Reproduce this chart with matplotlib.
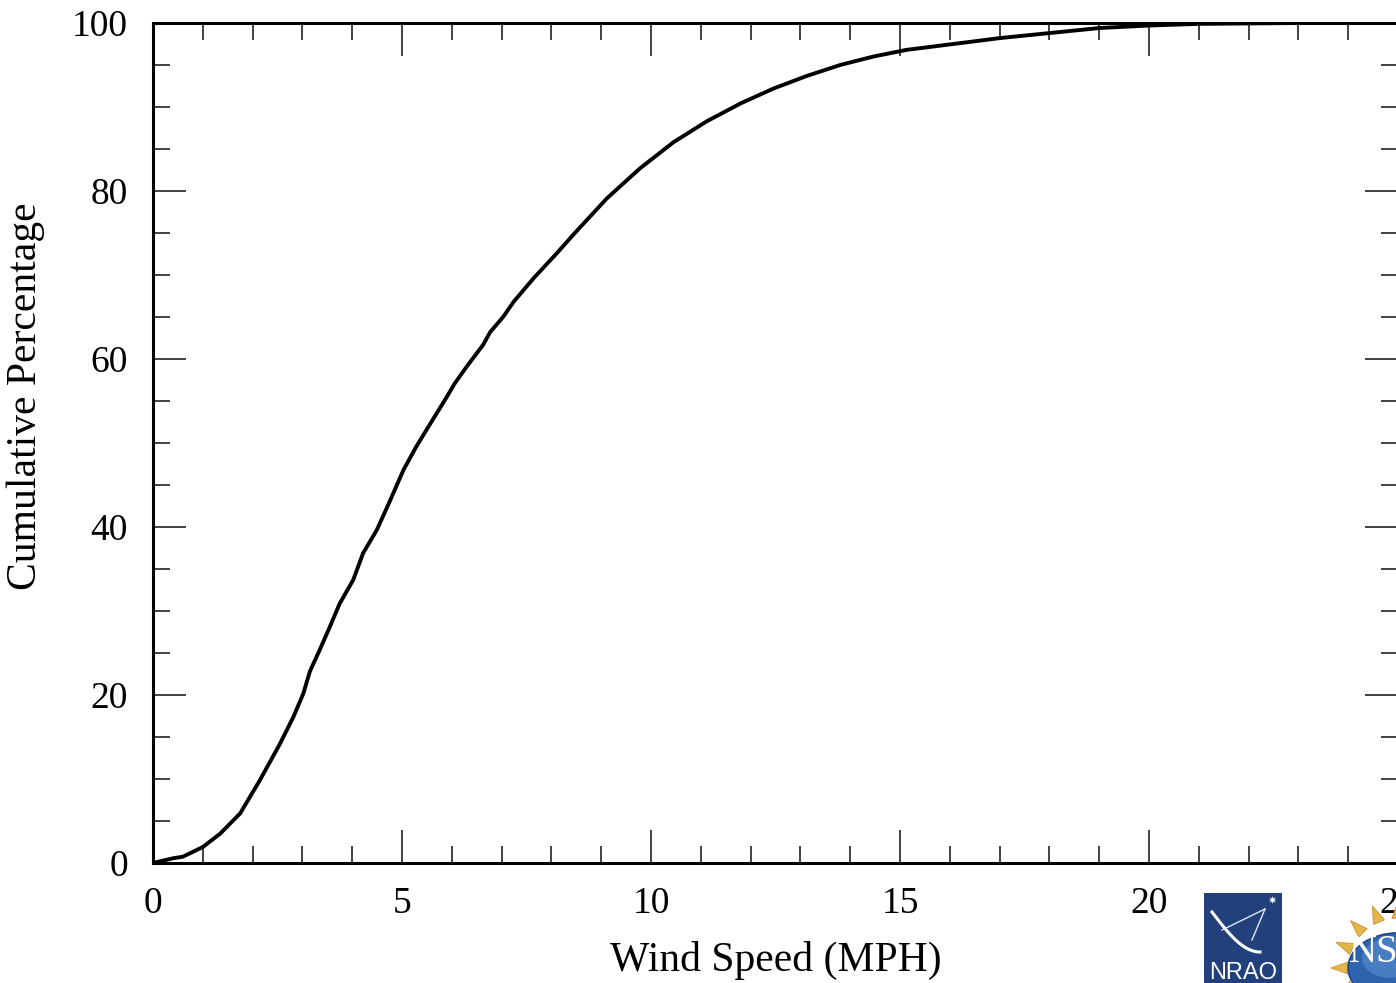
import numpy as np
import matplotlib
matplotlib.use("Agg")
import matplotlib.pyplot as plt
from matplotlib.ticker import MultipleLocator
from matplotlib.patches import Rectangle, Circle, Polygon
from matplotlib.lines import Line2D

# ---- data ----
wind_speed = [0, 0.4, 0.6, 1.0, 1.35, 1.75, 2.15, 2.55, 2.82, 3.02, 3.15, 3.35, 3.55,
              3.75, 4.02, 4.22, 4.49, 4.72, 5.03, 5.29, 5.63, 5.86, 6.06, 6.30, 6.63,
              6.77, 7.03, 7.24, 7.64, 8.11, 8.44, 9.11, 9.78, 10.45, 11.12, 11.79,
              12.46, 13.13, 13.80, 14.46, 15.13, 15.80, 16.47, 17.0, 18.0, 19.0, 20.0,
              21.0, 22.0, 23.0, 25.0]
cumulative_pct = [0, 0.56, 0.75, 1.9, 3.5, 5.9, 9.9, 14.2, 17.4, 20.2, 22.8, 25.4, 28.1,
                  30.9, 33.7, 36.9, 39.6, 42.6, 46.8, 49.6, 52.9, 55.1, 57.1, 59.1, 61.7,
                  63.2, 65.0, 66.8, 69.6, 72.6, 74.8, 79.1, 82.7, 85.8, 88.3, 90.4,
                  92.2, 93.7, 95.0, 96.0, 96.8, 97.3, 97.8, 98.2, 98.8, 99.4, 99.7,
                  99.9, 99.95, 100, 100]
x_ticks = [0, 5, 10, 15, 20, 25]
y_ticks = [0, 20, 40, 60, 80, 100]

W, H = 1396, 983
plt.rcParams['font.family'] = ['Liberation Serif', 'DejaVu Serif']
fig = plt.figure(figsize=(W / 100, H / 100), dpi=100)

def fx(x):
    return x / W

def fy(y):
    return 1 - y / H

ax = fig.add_axes([fx(153), fy(863), fx(1398) - fx(153), fy(23) - fy(863)])
ax.plot(wind_speed, cumulative_pct, color='black', lw=2.8, solid_joinstyle='round',
        solid_capstyle='round', zorder=3)
ax.set_xlim(0, 25)
ax.set_ylim(0, 100)
ax.set_xticks(x_ticks)
ax.set_yticks(y_ticks)
ax.xaxis.set_minor_locator(MultipleLocator(1))
ax.yaxis.set_minor_locator(MultipleLocator(5))
ax.tick_params(which='both', direction='in', top=True, right=True, color='#333333',
               width=1.3, labelsize=27)
ax.tick_params(which='major', length=24)
ax.tick_params(which='minor', length=12)
ax.tick_params(axis='x', which='major', pad=17)
ax.tick_params(axis='y', which='major', pad=18)
for s in ax.spines.values():
    s.set_linewidth(2.2)
ax.set_xlabel('Wind Speed (MPH)', fontsize=30, labelpad=14)
ax.set_ylabel('Cumulative Percentage', fontsize=30)
ax.yaxis.set_label_coords(-0.087, 0.556)

# ---- logos (decoration, approximate) ----
tf = fig.transFigure
# NRAO
fig.add_artist(Rectangle((fx(1204), fy(990)), fx(1282) - fx(1204), fy(893) - fy(990),
                         facecolor='#22417c', edgecolor='none', transform=tf))
t = np.linspace(0, 1, 40)
fig.add_artist(Line2D(fx(1212 + 48 * t), fy(912 + 40 * np.sin(t * np.pi / 2)),
                      color='white', lw=2.2, transform=tf))
fig.add_artist(Line2D([fx(1222), fx(1265)], [fy(930), fy(909)], color='#dfe6f2', lw=1,
                      transform=tf))
fig.add_artist(Line2D([fx(1252), fx(1265)], [fy(940), fy(909)], color='#dfe6f2', lw=1,
                      transform=tf))
fig.text(fx(1272), fy(901), '✷', color='white', fontsize=8, ha='center', va='center',
         family='DejaVu Sans')
fig.text(fx(1243), fy(962), 'NRAO', color='white', fontsize=17, ha='center', va='top',
         family='Liberation Sans')

# NSF
cx, cy, r = 1398, 968, 50
ang = np.linspace(0, 2 * np.pi, 16, endpoint=False)
for a in ang:
    pts = []
    for da, rr in ((-0.12, r), (0, r + 17), (0.12, r)):
        pts.append((fx(cx + rr * np.cos(a + da)), fy(cy - rr * np.sin(a + da))))
    fig.add_artist(Polygon(pts, closed=True, facecolor='#e6b54a', edgecolor='#c7922a',
                           lw=0.6, transform=tf))
fig.add_artist(Circle((fx(cx), fy(cy)), r / W, facecolor='#2f63ad', edgecolor='#1d3f80',
                      lw=1, transform=tf))
fig.add_artist(Circle((fx(cx - 8), fy(cy - 10)), 28 / W, facecolor='#5b8fd0',
                      edgecolor='none', alpha=0.6, transform=tf))
fig.text(fx(1374), fy(952), 'NS', color='white', fontsize=28, ha='center', va='center')

fig.savefig('out.png', dpi=100)
